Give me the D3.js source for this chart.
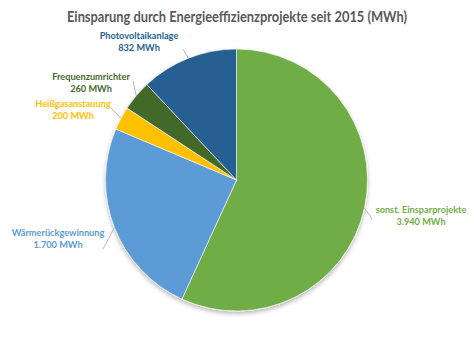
<!DOCTYPE html>
<html>
<head>
<meta charset="utf-8">
<script src="https://cdn.jsdelivr.net/npm/d3@7"></script>
<style>
  html, body { margin: 0; padding: 0; background: #fff; }
  svg { display: block; }
  text { font-family: Lato, "Open Sans", sans-serif; font-weight: bold; }
</style>
</head>
<body>
<svg id="chart" width="474" height="340"></svg>
<script>
// Savings per project type since 2015, in MWh
const categories = ["sonst. Einsparprojekte", "Wärmerückgewinnung", "Heißgasanstauung", "Frequenzumrichter", "Photovoltaikanlage"];
const values = [3940, 1700, 200, 260, 832];
const valueLabels = ["3.940 MWh", "1.700 MWh", "200 MWh", "260 MWh", "832 MWh"];
const colors = ["#70AD47", "#5B9BD5", "#FFC000", "#43682B", "#255E91"];
const textColors = ["#70AD47", "#5B9BD5", "#FFC000", "#43682B", "#255E91"];

const W = 474, H = 340;
const cx = 236.5, cy = 180, R = 131;

// label placement: text centre (first line) and where the leader line meets the label
const labelLayout = [
  { x: 421, y: 213, lx: 372, ly: 219 },
  { x: 58,  y: 236, lx: 103, ly: 249 },
  { x: 73,  y: 107, lx: 111, ly: 108 },
  { x: 91,  y: 80,  lx: 133, ly: 81 },
  { x: 139, y: 39,  lx: 183, ly: 49 }
];

const svg = d3.select("#chart");

const defs = svg.append("defs");
const f = defs.append("filter").attr("id", "shadow")
  .attr("x", "-10%").attr("y", "-10%").attr("width", "120%").attr("height", "125%");
f.append("feDropShadow").attr("dx", 0).attr("dy", 2.5).attr("stdDeviation", 2)
  .attr("flood-color", "#000").attr("flood-opacity", 0.28);

svg.append("text")
  .attr("x", 237).attr("y", 22)
  .attr("text-anchor", "middle")
  .attr("fill", "#595959")
  .attr("font-size", 14.5)
  .attr("textLength", 340)
  .attr("lengthAdjust", "spacingAndGlyphs")
  .text("Einsparung durch Energieeffizienzprojekte seit 2015 (MWh)");

const data = categories.map((c, i) => ({ name: c, value: values[i], label: valueLabels[i], i }));

const pie = d3.pie().sort(null).value(d => d.value);
const arcs = pie(data);
const arc = d3.arc().innerRadius(0).outerRadius(R);

const g = svg.append("g").attr("transform", `translate(${cx},${cy})`);

g.append("g").attr("filter", "url(#shadow)")
  .selectAll("path").data(arcs).join("path")
  .attr("d", arc)
  .attr("fill", d => colors[d.data.i])
  .attr("stroke", "#fff").attr("stroke-width", 0.6);

// leader lines from each slice's outer mid-point
svg.append("g").selectAll("line").data(arcs).join("line")
  .attr("x1", d => cx + R * Math.sin((d.startAngle + d.endAngle) / 2))
  .attr("y1", d => cy - R * Math.cos((d.startAngle + d.endAngle) / 2))
  .attr("x2", d => labelLayout[d.data.i].lx)
  .attr("y2", d => labelLayout[d.data.i].ly)
  .attr("stroke", "#A6A6A6").attr("stroke-width", 0.8);

const labels = svg.append("g").selectAll("text").data(data).join("text")
  .attr("text-anchor", "middle")
  .attr("fill", d => textColors[d.i])
  .attr("font-size", 9.2);
labels.append("tspan")
  .attr("x", d => labelLayout[d.i].x).attr("y", d => labelLayout[d.i].y)
  .text(d => d.name);
labels.append("tspan")
  .attr("x", d => labelLayout[d.i].x).attr("y", d => labelLayout[d.i].y + 12)
  .text(d => d.label);
</script>
</body>
</html>
